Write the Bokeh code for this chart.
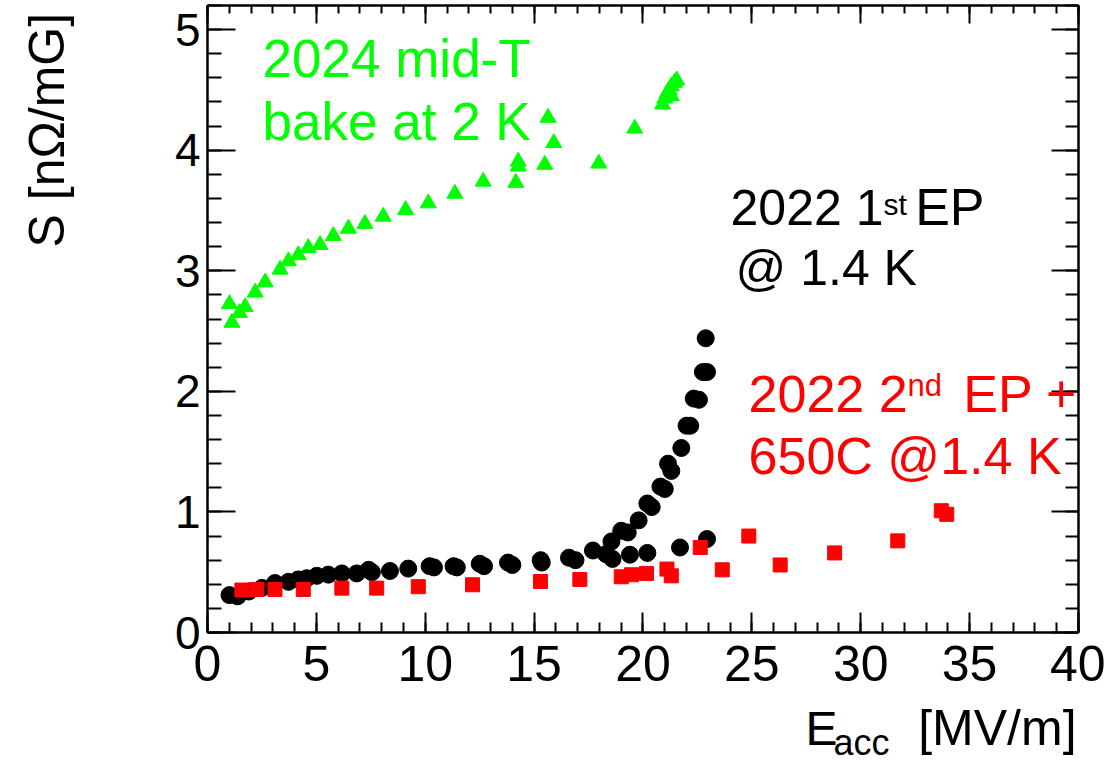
import math
from bokeh.plotting import figure
from bokeh.models import (Range1d, LinearAxis, SingleIntervalTicker, Label)
from bokeh.embed import file_html
from bokeh.resources import INLINE

# ---- data ----
ep1_x = [1.01, 1.38, 1.9, 2.5, 3.1, 3.72, 4.17, 4.56, 5.02, 5.55, 6.17, 6.85, 7.4, 7.55,
         8.38, 9.22, 10.2, 10.4, 11.3, 11.45, 12.5, 12.7, 13.8, 14.0, 15.3, 15.35,
         16.6, 16.9, 17.7, 18.3, 18.6, 18.55, 19.0, 19.3, 19.4, 19.8, 20.2, 20.4, 20.2,
         20.8, 21.0, 21.15, 21.3, 21.76, 21.7, 22.0, 22.17, 22.33, 22.57, 22.75, 22.94,
         22.88, 22.94]
ep1_y = [0.31, 0.30, 0.34, 0.37, 0.41, 0.42, 0.44, 0.45, 0.47, 0.48, 0.49, 0.49, 0.52, 0.50,
         0.51, 0.53, 0.55, 0.54, 0.55, 0.54, 0.57, 0.55, 0.58, 0.56, 0.60, 0.58,
         0.62, 0.60, 0.68, 0.65, 0.61, 0.755, 0.844, 0.83, 0.645, 0.93, 1.07, 1.04, 0.66,
         1.21, 1.19, 1.40, 1.34, 1.53, 0.705, 1.715, 1.715, 1.94, 1.93, 2.16, 2.16,
         2.44, 0.775]

ep2_x = [1.58, 2.27, 3.1, 4.4, 6.17, 7.77, 9.68, 12.17, 15.29, 17.1, 19.0, 19.47, 20.16,
         21.1, 21.3, 22.63, 23.64, 24.86, 26.3, 28.8, 31.7, 33.7, 33.95]
ep2_y = [0.352, 0.357, 0.357, 0.357, 0.368, 0.368, 0.38, 0.396, 0.423, 0.44, 0.462, 0.479,
         0.49, 0.526, 0.47, 0.705, 0.52, 0.80, 0.56, 0.66, 0.76, 1.01, 0.98]

midt_x = [1.01, 1.12, 1.47, 1.73, 2.19, 2.65, 3.33, 3.72, 4.17, 4.63, 5.17, 5.78, 6.47,
          7.23, 8.07, 9.1, 10.14, 11.36, 12.66, 14.16, 14.27, 14.27, 15.49, 15.64, 15.9,
          17.97, 19.62, 20.9, 21.0, 21.1, 21.2, 21.3, 21.3, 21.45, 21.55]
midt_y = [2.725, 2.57, 2.65, 2.70, 2.82, 2.905, 3.01, 3.08, 3.13, 3.19, 3.215, 3.29, 3.35,
          3.39, 3.45, 3.505, 3.56, 3.64, 3.74, 3.73, 3.906, 3.865, 3.88, 4.27, 4.06,
          3.89, 4.18, 4.38, 4.43, 4.47, 4.50, 4.53, 4.45, 4.56, 4.58]

X_LO, X_HI = 0, 40      # axis box limits
Y_LO, Y_HI = 0, 5.2

FONT = "Liberation Sans"

# The frame spans the whole canvas; the axis box is drawn with fixed-location
# axes so that the axis titles (Labels) are not clipped.
p = figure(width=1105, height=766, output_backend="svg", toolbar_location=None,
           x_range=Range1d(-9.506, 41.24), y_range=Range1d(-1.1113, 5.2415),
           x_axis_location=None, y_axis_location=None,
           min_border_left=0, min_border_right=0, min_border_top=0, min_border_bottom=0)
p.grid.visible = False
p.outline_line_color = None
p.background_fill_color = "white"
p.border_fill_color = "white"


def style_axis(ax, major_in, minor_in, labels=True, size="42px", font=FONT, standoff=7):
    ax.axis_line_color = "black"
    ax.axis_line_width = 2.5
    ax.major_tick_line_width = 2
    ax.minor_tick_line_width = 2
    ax.major_tick_in = major_in
    ax.major_tick_out = 0
    ax.minor_tick_in = minor_in
    ax.minor_tick_out = 0
    if labels:
        ax.major_label_text_font = font
        ax.major_label_text_font_size = size
        ax.major_label_text_color = "black"
        ax.major_label_standoff = standoff
    else:
        ax.major_label_text_font_size = "0px"
        ax.major_label_standoff = 0
        ax.major_label_text_alpha = 0


xt = SingleIntervalTicker(interval=5, num_minor_ticks=5)
yt = SingleIntervalTicker(interval=1, num_minor_ticks=5)

xb = LinearAxis(ticker=xt, fixed_location=Y_LO, bounds=(X_LO, X_HI))
style_axis(xb, 20, 10, size="50px", standoff=13)
p.add_layout(xb, "below")
xa = LinearAxis(ticker=xt, fixed_location=Y_HI, bounds=(X_LO, X_HI))
style_axis(xa, 18, 8, labels=False)
p.add_layout(xa, "above")
yl = LinearAxis(ticker=yt, fixed_location=X_LO, bounds=(Y_LO, Y_HI))
style_axis(yl, 28, 14, size="46px", standoff=7)
p.add_layout(yl, "left")
yr = LinearAxis(ticker=yt, fixed_location=X_HI, bounds=(Y_LO, Y_HI))
style_axis(yr, 27, 13, labels=False)
p.add_layout(yr, "right")

p.scatter(midt_x, midt_y, marker="triangle", size=16, color="#00ff00")
p.scatter(ep1_x, ep1_y, marker="circle", size=17, color="black")
p.scatter(ep2_x, ep2_y, marker="square", size=14, color="#ff0000")


def lab(text, x, y, size, color="black", align="left", angle=0.0):
    p.add_layout(Label(x=x, y=y, text=text,
                       text_font=FONT, text_font_size=f"{size}px",
                       text_color=color, text_align=align, text_baseline="alphabetic",
                       angle=angle))


# in-plot annotations (data-space anchors)
lab("2024 mid-T", 2.53, 4.760, 53, "#00ff00")
lab("bake at 2 K", 2.53, 4.238, 53, "#00ff00")

lab("2022 1", 24.02, 3.524, 50)
lab("st", 31.04, 3.549, 30)
lab("EP", 32.5, 3.533, 52)
lab("@ 1.4 K", 24.25, 3.027, 50)

lab("2022 2", 24.85, 1.982, 52, "#ff0000")
lab("nd", 32.15, 2.048, 31, "#ff0000")
lab("EP +", 39.95, 1.982, 52, "#ff0000", align="right")
lab("650C @1.4 K", 24.85, 1.460, 52, "#ff0000")

# axis titles
lab("E", 27.46, -0.796, 48)
lab("acc", 28.75, -0.915, 36)
lab("[MV/m]", 39.91, -0.788, 50, align="right")
lab("S [nΩ/mG]", -7.35, 3.193, 50, angle=math.pi / 2)

open("out.html", "w").write(file_html(p, INLINE))
